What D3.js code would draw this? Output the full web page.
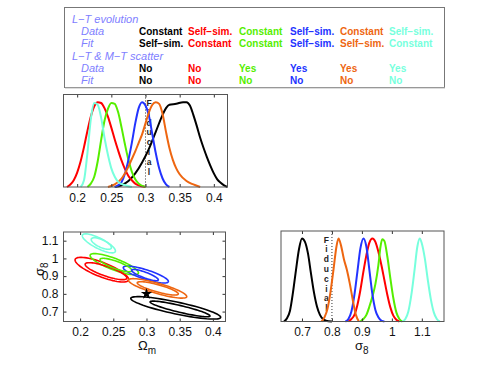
<!DOCTYPE html>
<html><head><meta charset="utf-8">
<script src="https://cdn.jsdelivr.net/npm/d3@7"></script>
<style>body{margin:0;background:#fff}svg{display:block;font-family:"Liberation Sans",Arial,sans-serif}</style>
</head><body><svg id="c" width="491" height="366"></svg>
<script>
// ---------- data ----------
const seriesColors = ["#000000","#ff0000","#55ee00","#2233ff","#ee6611","#77ffdd"];
const ltData   = ["Constant","Self−sim.","Constant","Self−sim.","Constant","Self−sim."];
const ltFit    = ["Self−sim.","Constant","Constant","Self−sim.","Self−sim.","Constant"];
const scatData = ["No","No","Yes","Yes","Yes","Yes"];
const scatFit  = ["No","No","No","No","No","No"];
const omegaTicks = [0.2,0.25,0.3,0.35,0.4];
const sigmaTicks = [0.7,0.8,0.9,1,1.1];
const fiducialOmega = 0.3, fiducialSigma = 0.8;

// Omega_m marginals [omega, density]
const omBlack = [[0.255,0],[0.265,0.02],[0.275,0.07],[0.285,0.16],[0.295,0.29],[0.305,0.45],[0.315,0.65],[0.325,0.85],[0.33,0.93],[0.335,0.97],[0.345,0.98],[0.355,1.0],[0.36,1.0],[0.365,0.96],[0.37,0.85],[0.375,0.72],[0.38,0.58],[0.385,0.46],[0.39,0.35],[0.395,0.25],[0.40,0.16],[0.405,0.09],[0.41,0.05],[0.415,0.02],[0.42,0]];
const omRed = [[0.185,0],[0.19,0.03],[0.195,0.08],[0.20,0.17],[0.205,0.30],[0.21,0.47],[0.215,0.66],[0.22,0.83],[0.225,0.95],[0.23,1.0],[0.235,0.99],[0.24,0.93],[0.245,0.83],[0.25,0.70],[0.255,0.56],[0.26,0.43],[0.265,0.31],[0.27,0.21],[0.275,0.13],[0.28,0.08],[0.285,0.04],[0.29,0.02],[0.30,0]];
const omGreen = [[0.215,0],[0.22,0.04],[0.225,0.12],[0.23,0.30],[0.235,0.55],[0.24,0.78],[0.245,0.92],[0.25,0.99],[0.255,0.98],[0.26,0.88],[0.265,0.70],[0.27,0.50],[0.275,0.32],[0.28,0.18],[0.285,0.09],[0.29,0.04],[0.30,0]];
const omBlue = [[0.255,0],[0.26,0.02],[0.265,0.06],[0.27,0.16],[0.275,0.32],[0.28,0.52],[0.285,0.75],[0.29,0.93],[0.295,1.0],[0.30,0.96],[0.305,0.84],[0.31,0.62],[0.315,0.40],[0.32,0.22],[0.325,0.10],[0.33,0.03],[0.335,0]];
const omOrange = [[0.245,0],[0.255,0.03],[0.265,0.10],[0.275,0.24],[0.28,0.33],[0.285,0.42],[0.29,0.52],[0.295,0.62],[0.30,0.75],[0.305,0.88],[0.31,0.97],[0.315,1.0],[0.32,0.98],[0.325,0.86],[0.33,0.65],[0.335,0.46],[0.34,0.32],[0.345,0.22],[0.35,0.15],[0.36,0.07],[0.37,0.03],[0.38,0]];
const omCyan = [[0.205,0],[0.21,0.08],[0.215,0.40],[0.22,0.80],[0.225,0.99],[0.23,0.97],[0.235,0.82],[0.24,0.58],[0.245,0.38],[0.25,0.22],[0.255,0.12],[0.26,0.06],[0.27,0.02],[0.28,0]];
const omegaMarginals = [omBlack,omRed,omGreen,omBlue,omOrange,omCyan];

// sigma_8 marginals [sigma8, density]
const sgBlack = [[0.64,0],[0.65,0.04],[0.66,0.13],[0.67,0.35],[0.68,0.62],[0.69,0.87],[0.70,1.0],[0.71,0.96],[0.72,0.82],[0.73,0.58],[0.74,0.35],[0.75,0.18],[0.76,0.08],[0.77,0.03],[0.78,0.01],[0.80,0]];
const sgRed = [[0.855,0],[0.865,0.03],[0.875,0.08],[0.885,0.2],[0.895,0.38],[0.905,0.6],[0.915,0.8],[0.925,0.95],[0.935,1.0],[0.945,0.96],[0.955,0.84],[0.965,0.68],[0.975,0.5],[0.985,0.32],[0.995,0.17],[1.005,0.07],[1.015,0.02],[1.025,0]];
const sgGreen = [[0.895,0],[0.905,0.03],[0.915,0.08],[0.925,0.18],[0.935,0.3],[0.945,0.45],[0.955,0.68],[0.962,0.9],[0.968,0.99],[0.975,0.97],[0.985,0.78],[0.995,0.52],[1.005,0.28],[1.015,0.11],[1.025,0.03],[1.035,0]];
const sgBlue = [[0.845,0],[0.855,0.03],[0.865,0.12],[0.875,0.32],[0.885,0.6],[0.895,0.88],[0.905,1.0],[0.915,0.9],[0.925,0.62],[0.935,0.33],[0.945,0.14],[0.955,0.05],[0.965,0.01],[0.975,0]];
const sgOrange = [[0.765,0],[0.775,0.05],[0.785,0.15],[0.795,0.35],[0.805,0.62],[0.815,0.9],[0.822,1.0],[0.83,0.92],[0.84,0.75],[0.85,0.62],[0.86,0.45],[0.87,0.25],[0.88,0.08],[0.89,0]];
const sgCyan = [[1.035,0],[1.045,0.03],[1.055,0.12],[1.065,0.32],[1.075,0.6],[1.085,0.9],[1.093,1.0],[1.10,0.94],[1.11,0.76],[1.12,0.5],[1.13,0.27],[1.14,0.11],[1.15,0.03],[1.16,0]];
const sigmaMarginals = [sgBlack,sgRed,sgGreen,sgBlue,sgOrange,sgCyan];

// joint contours: [centerOmega, centerSigma, tipOmega, tipSigma, widthRatio]
const contOuter = [[0.344,0.721,0.4117,0.667,0.13],[0.2327,0.9365,0.2728,0.878,0.25],[0.2515,0.9675,0.2878,0.916,0.22],[0.299,0.909,0.3329,0.8685,0.2],[0.3167,0.8308,0.3606,0.7836,0.17],[0.2283,1.085,0.253,1.038,0.28]];
const contInner = [[0.3505,0.715,0.3956,0.675,0.11],[0.239,0.928,0.2703,0.8876,0.22],[0.254,0.9628,0.2779,0.9305,0.22],[0.2978,0.906,0.3178,0.878,0.2],[0.317,0.831,0.3479,0.799,0.17],[0.232,1.084,0.247,1.058,0.35]];

// ---------- drawing ----------
const svg = d3.select("#c");
svg.append("rect").attr("width",491).attr("height",366).attr("fill","#fff");

// legend
const lg = svg.append("g");
lg.append("rect").attr("x",64.5).attr("y",7.5).attr("width",380).attr("height",80)
  .attr("fill","#fff").attr("stroke","#777").attr("stroke-width",1);
lg.append("line").attr("x1",65).attr("x2",445).attr("y1",88).attr("y2",88).attr("stroke","#bbb").attr("stroke-width",1);
const labelColor = "#8080ff";
const rowY = [22.5,34.5,46.5,59.5,71.5,83.5];
const labels = [["L−T evolution",72],["Data",81],["Fit",81],["L−T & M−T scatter",72],["Data",81],["Fit",81]];
labels.forEach((l,i)=>lg.append("text").attr("x",l[1]).attr("y",rowY[i]).text(l[0])
  .attr("fill",labelColor).attr("font-style","italic").attr("font-size",11));
const colX = [139,188,239,290,340,389];
[[ltData,1],[ltFit,2],[scatData,4],[scatFit,5]].forEach(([arr,r])=>{
  arr.forEach((t,j)=>lg.append("text").attr("x",colX[j]).attr("y",rowY[r]).text(t)
    .attr("fill",seriesColors[j]).attr("font-weight","bold").attr("font-size",10));
});

function panel(x0,x1,y0,y1,xd,yd){
  const x = d3.scaleLinear().domain(xd).range([x0,x1]);
  const y = d3.scaleLinear().domain(yd).range([y1,y0]);
  const g = svg.append("g");
  return {x,y,g,x0,x1,y0,y1};
}
function frame(p,xt,yt){
  const g = p.g.append("g");
  const axB = g.append("g").attr("transform",`translate(0,${p.y1})`)
    .call(d3.axisBottom(p.x).tickValues(xt).tickFormat(d3.format("")).tickSizeInner(-3).tickSizeOuter(0).tickPadding(6));
  const axT = g.append("g").attr("transform",`translate(0,${p.y0})`)
    .call(d3.axisTop(p.x).tickValues(xt).tickFormat("").tickSizeInner(-3).tickSizeOuter(0));
  if(yt){
    g.append("g").attr("transform",`translate(${p.x0},0)`)
      .call(d3.axisLeft(p.y).tickValues(yt).tickFormat(d3.format("")).tickSizeInner(-3).tickSizeOuter(0).tickPadding(5));
    g.append("g").attr("transform",`translate(${p.x1},0)`)
      .call(d3.axisRight(p.y).tickValues(yt).tickFormat("").tickSizeInner(-3).tickSizeOuter(0));
  }
  g.selectAll(".domain").remove();
  g.selectAll(".tick line").attr("stroke","#333");
  g.selectAll("text").attr("font-size",12).attr("fill","#111").attr("font-family","'Liberation Sans',Arial,sans-serif");
  g.append("rect").attr("x",p.x0).attr("y",p.y0).attr("width",p.x1-p.x0).attr("height",p.y1-p.y0)
    .attr("fill","none").attr("stroke","#555").attr("stroke-width",1);
}
function fiducial(p,val,textDx){
  const xv = p.x(val);
  p.g.append("line").attr("x1",xv).attr("x2",xv).attr("y1",p.y0).attr("y2",p.y1)
    .attr("stroke","#333").attr("stroke-width",1).attr("stroke-dasharray","1,2");
  "Fiducial".split("").forEach((ch,i)=>p.g.append("text").attr("x",xv+textDx).attr("y",p.y0+11.5+i*9.8)
    .attr("text-anchor","middle").attr("font-size",8.5).attr("font-weight","bold").attr("fill","#222").text(ch));
}

// top panel: Omega_m marginal
const p1 = panel(63.5,227.5,94.5,187,[0.18,0.42],[0,1.09]);
fiducial(p1,fiducialOmega,3.5);
const line1 = d3.line().x(d=>p1.x(d[0])).y(d=>p1.y(d[1])).curve(d3.curveMonotoneX);
omegaMarginals.forEach((s,i)=>p1.g.append("path").attr("d",line1(s)).attr("fill","none")
  .attr("stroke",seriesColors[i]).attr("stroke-width",2));
frame(p1,omegaTicks,null);

// lower-left: contours
const p2 = panel(63.5,225.5,232,321.5,[0.175,0.419],[0.644,1.149]);
function ellipse(c){
  const cx=p2.x(c[0]), cy=p2.y(c[1]), tx=p2.x(c[2]), ty=p2.y(c[3]);
  const ax=tx-cx, ay=ty-cy, a=Math.hypot(ax,ay), b=a*c[4];
  const ux=ax/a, uy=ay/a;
  return d3.range(0,72).map(k=>{const t=k/72*2*Math.PI, ca=Math.cos(t)*a, sb=Math.sin(t)*b;
    return [cx+ux*ca-uy*sb, cy+uy*ca+ux*sb];});
}
const loop = d3.line().curve(d3.curveLinearClosed);
[contOuter,contInner].forEach(set=>set.forEach((c,i)=>p2.g.append("path").attr("d",loop(ellipse(c)))
  .attr("fill","none").attr("stroke",seriesColors[i]).attr("stroke-width",1.6)));
p2.g.append("path").attr("d",d3.symbol(d3.symbolStar,40)())
  .attr("transform",`translate(${p2.x(fiducialOmega)},${p2.y(fiducialSigma)})`).attr("fill","#000");
frame(p2,omegaTicks,sigmaTicks);
const xl = svg.append("text").attr("x",138).attr("y",349.5).attr("font-size",13).attr("fill","#111");
xl.append("tspan").text("Ω");
xl.append("tspan").text("m").attr("font-size",10).attr("dy",4);
const yl = svg.append("text").attr("transform","translate(44,276) rotate(-90)").attr("font-size",13).attr("fill","#111");
yl.append("tspan").text("σ");
yl.append("tspan").text("8").attr("font-size",10).attr("dy",4);

// lower-right: sigma_8 marginal
const p3 = panel(281,444,231,321.5,[0.63,1.174],[0,1.09]);
fiducial(p3,fiducialSigma,-5.5);
const line3 = d3.line().x(d=>p3.x(d[0])).y(d=>p3.y(d[1])).curve(d3.curveMonotoneX);
sigmaMarginals.forEach((s,i)=>p3.g.append("path").attr("d",line3(s)).attr("fill","none")
  .attr("stroke",seriesColors[i]).attr("stroke-width",2));
frame(p3,sigmaTicks,null);
const sl = svg.append("text").attr("x",355).attr("y",349.5).attr("font-size",13).attr("fill","#111");
sl.append("tspan").text("σ");
sl.append("tspan").text("8").attr("font-size",10).attr("dy",4);
</script></body></html>
